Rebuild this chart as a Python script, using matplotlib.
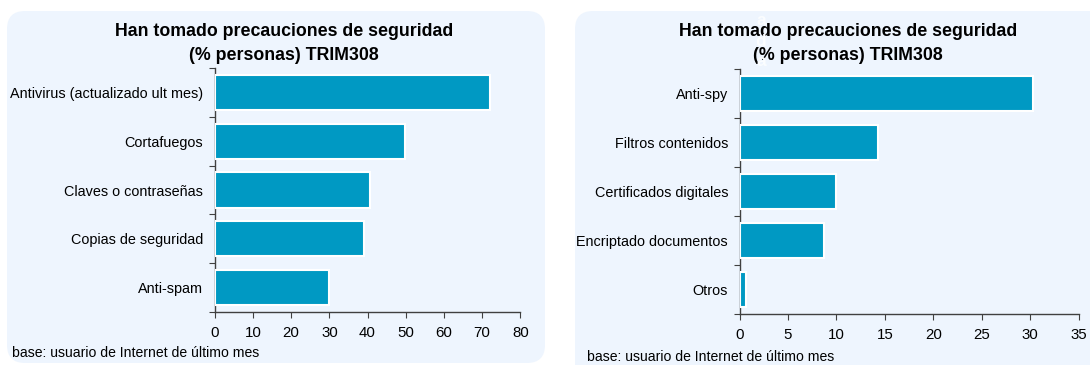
import matplotlib.pyplot as plt
from matplotlib.patches import FancyBboxPatch
from matplotlib.transforms import IdentityTransform

plt.rcParams['font.family'] = ['Liberation Sans', 'DejaVu Sans']

titulo = 'Han tomado precauciones de seguridad\n(% personas) TRIM308'
base = 'base: usuario de Internet de último mes'

cats_izq = ['Antivirus (actualizado ult mes)', 'Cortafuegos', 'Claves o contraseñas',
            'Copias de seguridad', 'Anti-spam']
vals_izq = [72.1, 49.8, 40.7, 39.1, 30.0]
ticks_izq = [0, 10, 20, 30, 40, 50, 60, 70, 80]

cats_der = ['Anti-spy', 'Filtros contenidos', 'Certificados digitales',
            'Encriptado documentos', 'Otros']
vals_der = [30.3, 14.3, 10.0, 8.7, 0.65]
ticks_der = [0, 5, 10, 15, 20, 25, 30, 35]

fondo = '#eef5fe'
azul = '#0099c3'
eje = '#404040'

W, H = 1090, 365
fig = plt.figure(figsize=(W / 100, H / 100), dpi=100)
fig.patch.set_facecolor('white')


def caja(x0, y0, x1, y1):
    # rounded panel background, in pixels from the top-left corner
    p = FancyBboxPatch((x0, H - y1), x1 - x0, y1 - y0,
                       boxstyle='round,pad=0,rounding_size=18',
                       transform=IdentityTransform(), facecolor=fondo,
                       edgecolor='none', zorder=-5)
    fig.patches.append(p)


caja(7, 11, 545, 363)
caja(575, 11, 1120, 385)


def panel(rect, cats, vals, ticks, tx, foot_x, foot_y):
    ax = fig.add_axes(rect)
    ax.set_facecolor('none')
    y = list(range(len(cats)))
    ax.barh(y, vals, height=0.72, color=azul, edgecolor='white', linewidth=1.5, zorder=3)
    ax.set_ylim(len(cats) - 0.5, -0.5)
    ax.set_xlim(ticks[0], ticks[-1])
    ax.set_xticks(ticks)
    ax.set_yticks([i - 0.5 for i in range(len(cats) + 1)])
    ax.set_yticklabels([])
    ax.set_yticks(y, minor=True)
    ax.set_yticklabels(cats, minor=True, fontsize=10.4)
    ax.tick_params(axis='y', which='minor', length=0, pad=8.3)
    ax.tick_params(axis='y', which='major', length=4, direction='out', color=eje)
    ax.tick_params(axis='x', length=4, direction='out', color=eje, labelsize=10.8, pad=6)
    for s in ('top', 'right'):
        ax.spines[s].set_visible(False)
    for s in ('left', 'bottom'):
        ax.spines[s].set_color(eje)
        ax.spines[s].set_linewidth(1)
    fig.text(tx / W, 1 - 43.5 / H, titulo, ha='center', va='center',
             fontsize=12.8, fontweight='bold', linespacing=1.6)
    fig.text(foot_x / W, 1 - foot_y / H, base, ha='left', va='center', fontsize=10.1)
    return ax


panel([214.8 / W, 1 - 312 / H, 305.5 / W, 244 / H], cats_izq, vals_izq, ticks_izq,
      284, 12, 353)
panel([739.6 / W, 1 - 314 / H, 338.9 / W, 245 / H], cats_der, vals_der, ticks_der,
      848, 587, 357)

# stray white letters sitting over the right-hand title
fig.text(761 / W, 1 - 41 / H, 'a\nd\na', ha='center', va='center', color='#fbfdff',
         fontsize=12.5, fontweight='bold', linespacing=1.45, zorder=10)

fig.savefig('out.png', dpi=100, facecolor='white')
